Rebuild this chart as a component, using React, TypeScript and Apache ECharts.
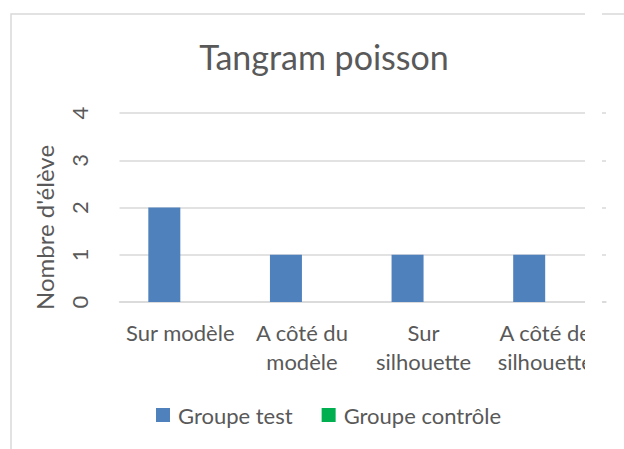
import React, { useEffect, useRef } from "react";
import * as echarts from "echarts";

const categories = ["Sur modèle", "A côté du\nmodèle", "Sur\nsilhouette", "A côté de\nsilhouette"];
const groupeTest = [2, 1, 1, 1];
const groupeControle = [0, 0, 0, 0];
const yTicks = { min: 0, max: 4, interval: 1 };

const FONT = "Lato";
const TEXT = "#595959";
const GRID = "#d9d9d9";

export default function App() {
  const ref = useRef<HTMLDivElement>(null);
  useEffect(() => {
    if (!ref.current) return;
    const chart = echarts.init(ref.current, undefined, { renderer: "svg" });
    chart.setOption({
      animation: false,
      backgroundColor: "#ffffff",
      textStyle: { fontFamily: FONT },
      title: {
        text: "Tangram poisson",
        left: 319,
        top: 34,
        textAlign: "center",
        textStyle: { fontFamily: FONT, fontSize: 34, fontWeight: "normal", color: TEXT },
      },
      legend: {
        top: 404,
        left: 156,
        padding: 0,
        itemWidth: 14,
        itemHeight: 14,
        itemGap: 29,
        icon: "rect",
        textStyle: { fontFamily: FONT, fontSize: 22, color: TEXT, padding: [0, 0, 0, 3] },
        data: ["Groupe test", "Groupe contrôle"],
      },
      grid: { left: 119.5, right: 18, top: 113, bottom: 147, containLabel: false },
      xAxis: {
        type: "category",
        data: categories,
        axisLine: { show: true, lineStyle: { color: GRID, width: 1.5 } },
        axisTick: { show: false },
        axisLabel: {
          interval: 0,
          margin: 16,
          fontFamily: FONT,
          fontSize: 22,
          lineHeight: 29,
          color: TEXT,
        },
      },
      yAxis: {
        type: "value",
        min: yTicks.min,
        max: yTicks.max,
        interval: yTicks.interval,
        name: "Nombre d'élève",
        nameLocation: "middle",
        nameRotate: 90,
        nameGap: 63,
        nameTextStyle: { fontFamily: FONT, fontSize: 24, color: TEXT, padding: [0, 40, 0, 0] },
        axisLine: { show: false },
        axisTick: { show: false },
        splitLine: { lineStyle: { color: GRID, width: 1.5 } },
        axisLabel: { rotate: 90, margin: 29, fontFamily: FONT, fontSize: 22, color: TEXT },
      },
      series: [
        {
          name: "Groupe test",
          type: "bar",
          data: groupeTest,
          barWidth: 32,
          barGap: "0%",
          itemStyle: { color: "#4f81bd" },
        },
        {
          name: "Groupe contrôle",
          type: "bar",
          data: groupeControle,
          barWidth: 32,
          itemStyle: { color: "#00b050" },
        },
      ],
      graphic: [
        {
          type: "rect",
          z: 100,
          silent: true,
          shape: { x: 11, y: 14, width: 700, height: 500 },
          style: { fill: "none", stroke: GRID, lineWidth: 1.5 },
        },
        {
          type: "rect",
          z: 101,
          silent: true,
          shape: { x: 585, y: 0, width: 17, height: 449 },
          style: { fill: "#ffffff", stroke: "none" },
        },
      ],
    });
    return () => chart.dispose();
  }, []);
  return (
    <div
      ref={ref}
      style={{ position: "absolute", left: 0, top: 0, width: 624, height: 449 }}
    />
  );
}
